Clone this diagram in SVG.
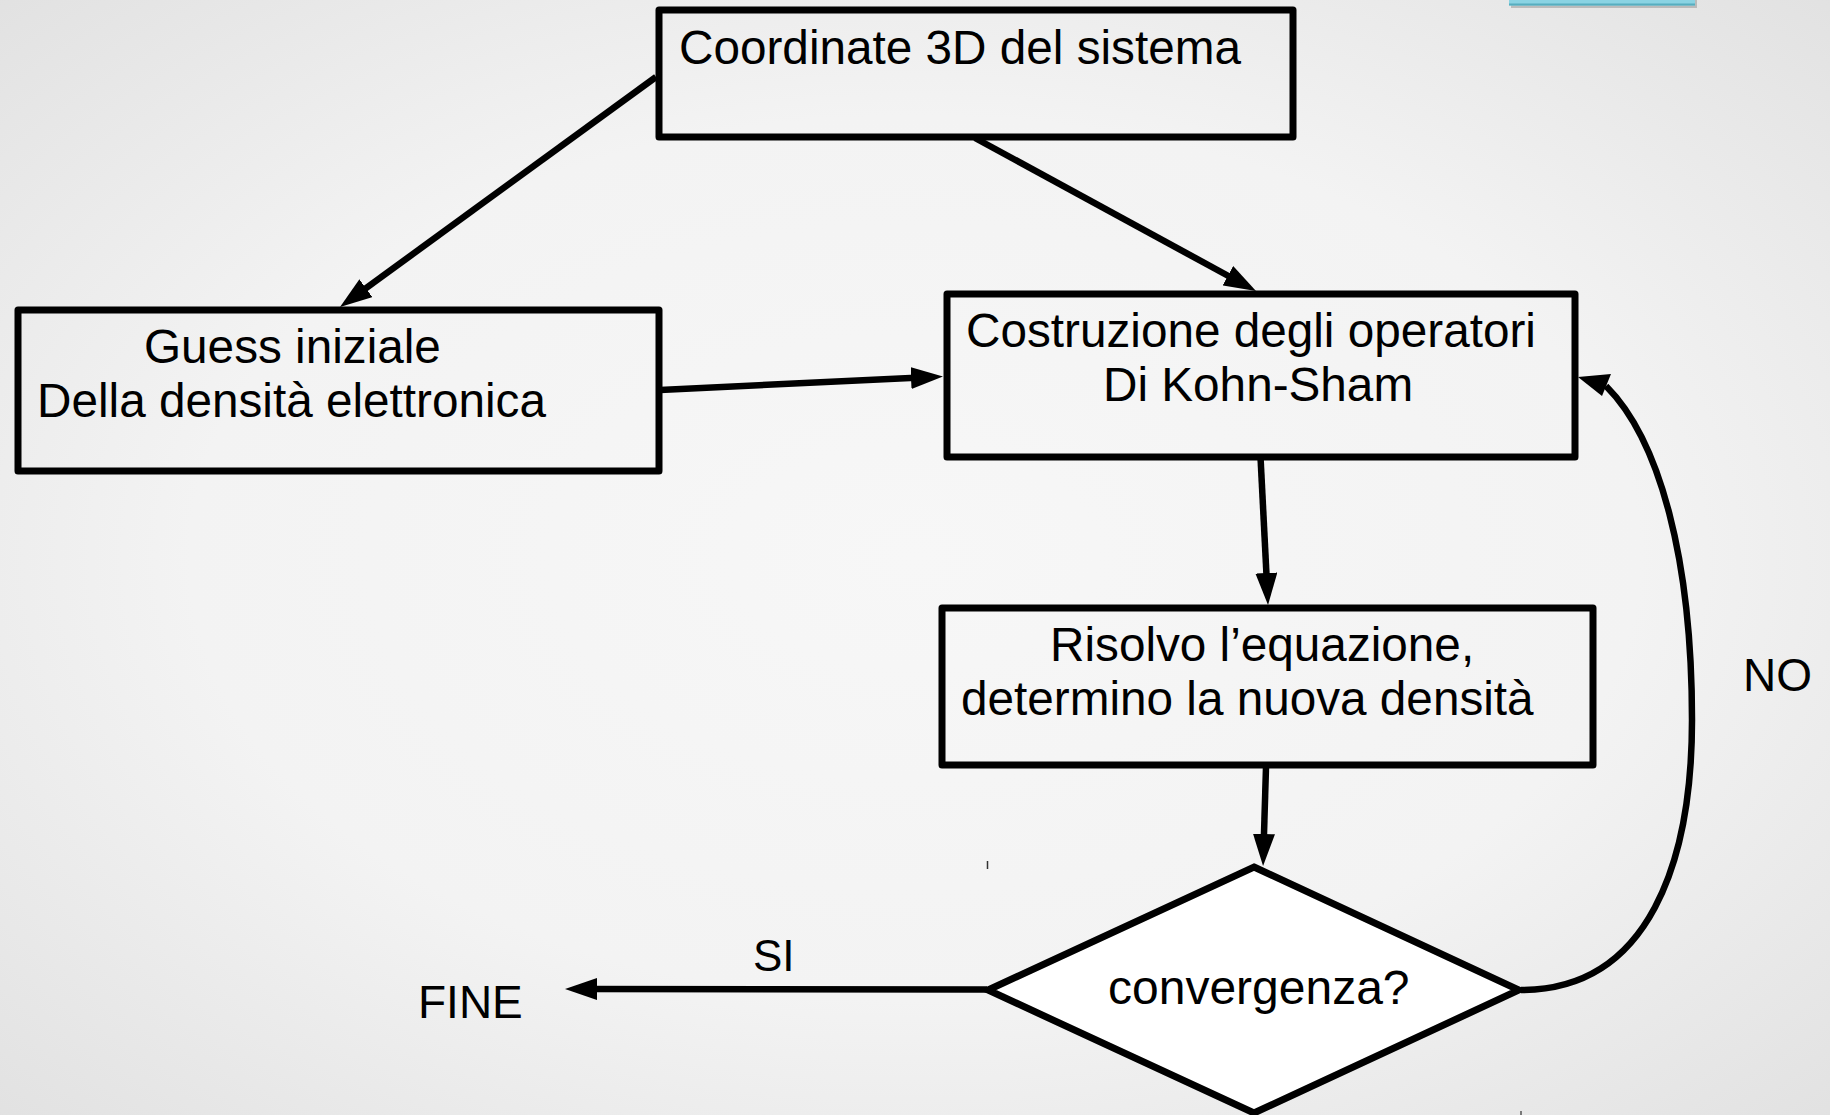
<svg xmlns="http://www.w3.org/2000/svg" width="1830" height="1115" viewBox="0 0 1830 1115">
  <defs>
    <radialGradient id="bg" cx="50%" cy="50%" r="72%">
      <stop offset="0" stop-color="#f7f7f7"/>
      <stop offset="0.55" stop-color="#f3f3f3"/>
      <stop offset="1" stop-color="#e1e1e1"/>
    </radialGradient>
    <marker id="arrow" viewBox="0 0 32 22" refX="10" refY="11" markerWidth="32" markerHeight="22" markerUnits="userSpaceOnUse" orient="auto">
      <path d="M0,0 L32,11 L0,22 z" fill="#000"/>
    </marker>
  </defs>
  <style>
    .box { fill: none; stroke: #000; stroke-width: 7; stroke-linejoin: round; }
    .dia { fill: #fff; stroke: #000; stroke-width: 7; stroke-linejoin: miter; }
    .lbl { font-family: "Liberation Sans", Arial, sans-serif; font-size: 47.7px; fill: #000; }
    .conn { fill: none; stroke: #000; stroke-width: 6.5; }
  </style>

  <rect x="0" y="0" width="1830" height="1115" fill="url(#bg)"/>

  <!-- blue element at top right -->
  <rect x="1511" y="-10" width="186" height="18" fill="#7a7a7a" opacity="0.4"/>
  <rect x="1509" y="-10" width="186" height="15.5" fill="#8ad3e3"/>
  <line x1="1509" y1="4.5" x2="1695" y2="4.5" stroke="#56aebf" stroke-width="2"/>

  <!-- small tick marks -->
  <line x1="987.5" y1="861" x2="987.5" y2="869" stroke="#333" stroke-width="1.5"/>
  <line x1="1521" y1="1111" x2="1521" y2="1115" stroke="#555" stroke-width="1.5"/>

  <g id="connectors">
    <line class="conn" x1="656" y1="77" x2="357.8" y2="294.1" marker-end="url(#arrow)"/>
    <line class="conn" x1="975" y1="138" x2="1236.7" y2="280.5" marker-end="url(#arrow)"/>
    <line class="conn" x1="660" y1="390" x2="921" y2="377.5" marker-end="url(#arrow)"/>
    <line class="conn" x1="1260.5" y1="457" x2="1266.9" y2="583" marker-end="url(#arrow)"/>
    <line class="conn" x1="1266" y1="767" x2="1263.7" y2="844" marker-end="url(#arrow)"/>
    <line class="conn" x1="987" y1="989.5" x2="587" y2="989" stroke-width="8" marker-end="url(#arrow)"/>
    <path class="conn" d="M1521,990 C1650,990 1692,860 1692,720 C1692,560 1660,440 1606,386"/>
    <polygon points="1578,377 1611,374 1602,396" fill="#000"/>
  </g>

  <g id="node-coordinate">
    <rect class="box" x="659" y="10" width="634" height="127"/>
    <text class="lbl" x="679" y="64">Coordinate 3D del sistema</text>
  </g>

  <g id="node-guess">
    <rect class="box" x="18" y="310" width="641" height="161"/>
    <text class="lbl" x="144" y="363">Guess iniziale</text>
    <text class="lbl" x="37" y="417">Della densità elettronica</text>
  </g>

  <g id="node-costruzione">
    <rect class="box" x="947" y="294" width="628" height="163"/>
    <text class="lbl" x="966" y="347">Costruzione degli operatori</text>
    <text class="lbl" x="1103" y="401">Di Kohn-Sham</text>
  </g>

  <g id="node-risolvo">
    <rect class="box" x="942" y="608" width="651" height="157"/>
    <text class="lbl" x="1050" y="661">Risolvo l’equazione,</text>
    <text class="lbl" x="961" y="715">determino la nuova densità</text>
  </g>

  <g id="node-convergenza">
    <polygon class="dia" points="1254,867 1519,990 1254,1113 988,990"/>
    <text class="lbl" x="1108" y="1004" style="font-size:48px">convergenza?</text>
  </g>

  <g id="labels">
    <text class="lbl" x="753" y="971" style="font-size:44px">SI</text>
    <text class="lbl" x="418" y="1018" style="font-size:46px">FINE</text>
    <text class="lbl" x="1743" y="691" style="font-size:46px">NO</text>
  </g>
</svg>
